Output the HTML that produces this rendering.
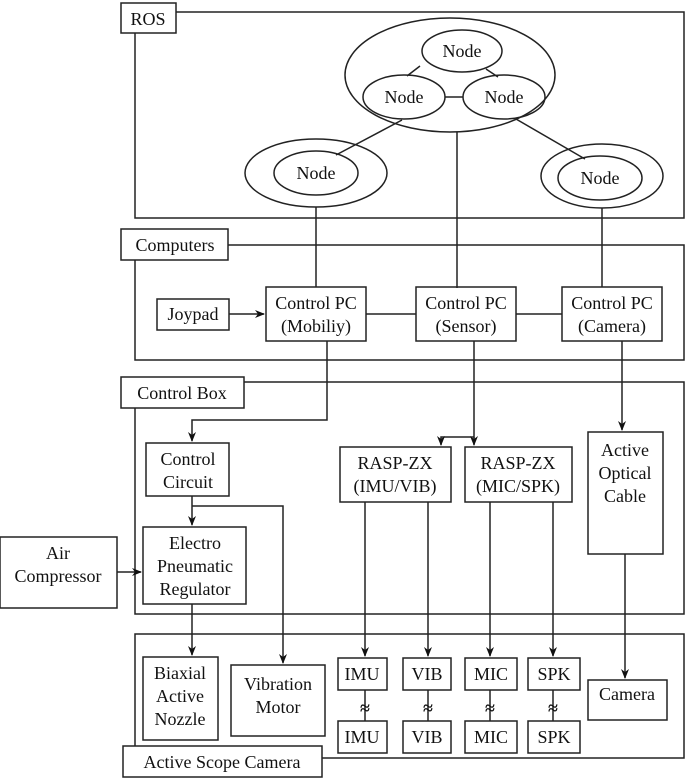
<!DOCTYPE html>
<html><head><style>
body{margin:0;background:#fff}
svg{display:block}
text{font-family:"Liberation Serif",serif;font-size:18px;fill:#111;text-anchor:middle}
</style></head><body>
<svg width="685" height="778" viewBox="0 0 685 778" xmlns="http://www.w3.org/2000/svg">
<defs><marker id="a" markerWidth="10" markerHeight="8" refX="9" refY="4" orient="auto" markerUnits="userSpaceOnUse"><path d="M0,0 L10,4 L0,8 L3,4z" fill="#111"/></marker></defs>
<g fill="none" stroke="#222" stroke-width="1.5">
<rect x="135" y="12" width="549" height="206"/>
<rect x="135" y="245" width="549" height="115"/>
<rect x="135" y="382" width="549" height="232"/>
<rect x="135" y="634" width="549" height="124"/>
<ellipse cx="450" cy="75" rx="105" ry="57"/>
<ellipse cx="462" cy="51" rx="40" ry="21"/>
<ellipse cx="404" cy="97" rx="41" ry="22"/>
<ellipse cx="504" cy="97" rx="41" ry="22"/>
<ellipse cx="316" cy="173" rx="71" ry="34"/>
<ellipse cx="316" cy="173" rx="42" ry="22"/>
<ellipse cx="602" cy="176" rx="61" ry="32"/>
<ellipse cx="600" cy="178" rx="42" ry="22"/>
<path d="M420,66 L407,76 M486,69 L498,77 M445,97 L463,97 M402,120 L336,155 M516,119 L585,159 M457,132 V288 M316,207 V287 M602,208 V287"/>
<rect x="157" y="299" width="72" height="31"/>
<rect x="266" y="287" width="100" height="54"/>
<rect x="416" y="287" width="100" height="54"/>
<rect x="562" y="287" width="100" height="54"/>
<path d="M229,314 H264" marker-end="url(#a)"/>
<path d="M366,314 H416 M516,314 H562"/>
<path d="M327,341 V420 H192 V441" marker-end="url(#a)"/>
<path d="M474,341 V437 H441 V445" marker-end="url(#a)"/>
<path d="M474,437 V445" marker-end="url(#a)"/>
<path d="M622,341 V430" marker-end="url(#a)"/>
<rect x="146" y="443" width="83" height="53"/>
<rect x="143" y="527" width="103" height="77"/>
<rect x="0" y="537" width="117" height="71"/>
<rect x="340" y="447" width="111" height="55"/>
<rect x="465" y="447" width="107" height="55"/>
<rect x="588" y="432" width="75" height="122"/>
<path d="M192,496 V525" marker-end="url(#a)"/>
<path d="M192,506 H283 V663" marker-end="url(#a)"/>
<path d="M117,572 H141" marker-end="url(#a)"/>
<path d="M192,604 V655" marker-end="url(#a)"/>
<path d="M365,502 V656" marker-end="url(#a)"/>
<path d="M428,502 V656" marker-end="url(#a)"/>
<path d="M490,502 V656" marker-end="url(#a)"/>
<path d="M553,502 V656" marker-end="url(#a)"/>
<path d="M625,554 V678" marker-end="url(#a)"/>
<rect x="143" y="657" width="75" height="83"/>
<rect x="231" y="665" width="94" height="71"/>
<rect x="338" y="658" width="49" height="32"/>
<rect x="403" y="658" width="48" height="32"/>
<rect x="465" y="658" width="52" height="32"/>
<rect x="528" y="658" width="52" height="32"/>
<rect x="338" y="721" width="49" height="32"/>
<rect x="403" y="721" width="48" height="32"/>
<rect x="465" y="721" width="52" height="32"/>
<rect x="528" y="721" width="52" height="32"/>
<rect x="588" y="680" width="79" height="40"/>
<path d="M365,690 V721 M428,690 V721 M490,690 V721 M553,690 V721"/>
</g>
<g fill="#fff" stroke="#222" stroke-width="1.5">
<rect x="121" y="3" width="55" height="30"/>
<rect x="121" y="229" width="107" height="31"/>
<rect x="121" y="377" width="123" height="31"/>
<rect x="123" y="746" width="199" height="31"/>
</g>
<text x="148" y="25">ROS</text>
<text x="175" y="251">Computers</text>
<text x="182" y="399">Control Box</text>
<text x="222" y="768">Active Scope Camera</text>
<text x="462" y="57">Node</text>
<text x="404" y="103">Node</text>
<text x="504" y="103">Node</text>
<text x="316" y="179">Node</text>
<text x="600" y="184">Node</text>
<text x="193" y="320">Joypad</text>
<text x="316" y="309">Control PC</text><text x="316" y="332">(Mobiliy)</text>
<text x="466" y="309">Control PC</text><text x="466" y="332">(Sensor)</text>
<text x="612" y="309">Control PC</text><text x="612" y="332">(Camera)</text>
<text x="188" y="465">Control</text><text x="188" y="488">Circuit</text>
<text x="195" y="549">Electro</text><text x="195" y="572">Pneumatic</text><text x="195" y="595">Regulator</text>
<text x="58" y="559">Air</text><text x="58" y="582">Compressor</text>
<text x="395" y="469">RASP-ZX</text><text x="395" y="492">(IMU/VIB)</text>
<text x="518" y="469">RASP-ZX</text><text x="518" y="492">(MIC/SPK)</text>
<text x="625" y="456">Active</text><text x="625" y="479">Optical</text><text x="625" y="502">Cable</text>
<text x="180" y="679">Biaxial</text><text x="180" y="702">Active</text><text x="180" y="725">Nozzle</text>
<text x="278" y="690">Vibration</text><text x="278" y="713">Motor</text>
<text x="362" y="680">IMU</text><text x="427" y="680">VIB</text><text x="491" y="680">MIC</text><text x="554" y="680">SPK</text>
<text x="362" y="743">IMU</text><text x="427" y="743">VIB</text><text x="491" y="743">MIC</text><text x="554" y="743">SPK</text>
<text x="627" y="700">Camera</text>
<g style="font-size:24px;font-weight:bold"><text x="365" y="714">≈</text><text x="428" y="714">≈</text><text x="490" y="714">≈</text><text x="553" y="714">≈</text></g>
</svg>
</body></html>
